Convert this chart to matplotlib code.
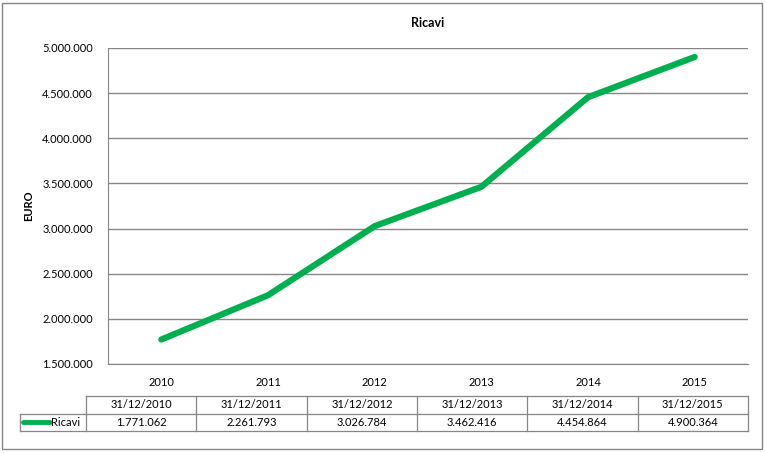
import matplotlib
matplotlib.use('Agg')
from matplotlib import pyplot as plt
from matplotlib.patches import Rectangle
from matplotlib.ticker import FuncFormatter

# ============================ DATA ====================================

years = ['2010', '2011', '2012', '2013', '2014', '2015']
dates = ['31/12/2010', '31/12/2011', '31/12/2012',
         '31/12/2013', '31/12/2014', '31/12/2015']
ricavi = [1771062, 2261793, 3026784, 3462416, 4454864, 4900364]

GREEN = '#00b050'
GREY = '#868686'
FS = 8

plt.rcParams['font.family'] = ['Lato', 'DejaVu Sans']


def it_fmt(v, pos=None):
    return '{:,.0f}'.format(v).replace(',', '.')


W, H = 766, 453
fig = plt.figure(figsize=(W / 100, H / 100), dpi=100)

# outer chart border
fig.patches.append(Rectangle((2 / W, 4 / H), 760 / W, 446 / H,
                             transform=fig.transFigure, fill=False,
                             edgecolor=GREY, lw=1.0))

# ---- plot area ----
ax = fig.add_axes([108 / W, (H - 364) / H, 640 / W, 316 / H])
x = range(len(years))
ax.plot(x, ricavi, color=GREEN, lw=4.5, solid_capstyle='round',
        solid_joinstyle='round')
ax.set_xlim(-0.5, len(years) - 0.5)
ax.set_ylim(1500000, 5000000)
ax.set_yticks(range(1500000, 5000001, 500000))
ax.yaxis.set_major_formatter(FuncFormatter(it_fmt))
ax.set_xticks(list(x), years)
ax.grid(axis='y', color=GREY, lw=1.0)
ax.set_axisbelow(True)
for side in ['top', 'right']:
    ax.spines[side].set_visible(False)
ax.spines['left'].set_color(GREY)
ax.spines['bottom'].set_color(GREY)
ax.tick_params(axis='y', length=0, pad=11, labelsize=FS)
ax.tick_params(axis='x', length=0, pad=9, labelsize=FS)
ax.set_ylabel('EURO', fontsize=FS, fontweight='bold', labelpad=6)
ax.set_title('Ricavi', fontsize=9, fontweight='bold', pad=15)

# ---- data table below the plot ----
tab = fig.add_axes([0, 0, 1, 1])
tab.set_xlim(0, W)
tab.set_ylim(H, 0)
tab.axis('off')

col0, col1, colw = 20, 86, (748 - 86) / len(dates)
y0, y1, y2 = 396, 413.5, 431
lkw = dict(color=GREY, lw=0.9)
tab.plot([col1, 748], [y0, y0], **lkw)
tab.plot([col0, 748], [y1, y1], **lkw)
tab.plot([col0, 748], [y2, y2], **lkw)
tab.plot([col0, col0], [y1, y2], **lkw)
for i in range(len(dates) + 1):
    xc = col1 + i * colw
    tab.plot([xc, xc], [y0, y2], **lkw)
for i, (d, v) in enumerate(zip(dates, ricavi)):
    xc = col1 + (i + 0.5) * colw
    tab.text(xc, (y0 + y1) / 2, d, ha='center', va='center', fontsize=FS)
    tab.text(xc, (y1 + y2) / 2, it_fmt(v), ha='center', va='center',
             fontsize=FS)
tab.plot([23, 50], [(y1 + y2) / 2] * 2, color=GREEN, lw=3.5,
         solid_capstyle='round')
tab.text(51, (y1 + y2) / 2, 'Ricavi', ha='left', va='center', fontsize=FS)

fig.savefig('out.png', dpi=100)
